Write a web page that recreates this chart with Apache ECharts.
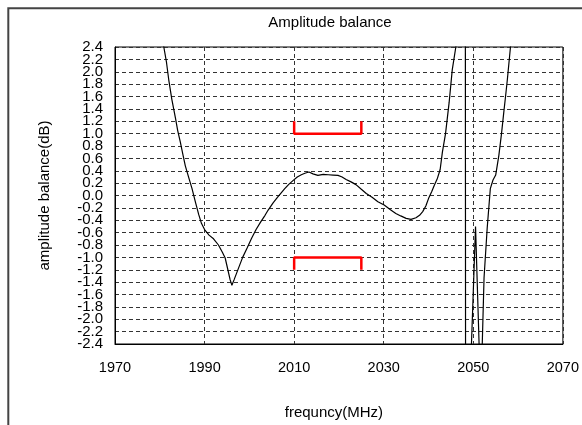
<!DOCTYPE html>
<html>
<head>
<meta charset="utf-8">
<script src="https://cdn.jsdelivr.net/npm/echarts@6/dist/echarts.min.js"></script>
<style>
html,body{margin:0;padding:0;background:#fff;}
#chart{width:582px;height:425px;}
</style>
</head>
<body>
<div id="chart"></div>
<script>
// frequency (MHz) of measured amplitude-balance samples
var freqs = [1979.6,1980.9,1981.5,1982.0,1982.7,1983.5,1984.0,1984.6,1985.2,1985.7,1986.5,1987.2,1988.0,1988.7,1989.3,1990.0,1991.0,1992.0,1993.1,1994.0,1994.6,1995.2,1995.7,1996.1,1996.6,1997.6,1998.5,1999.5,2000.5,2001.5,2002.5,2003.5,2004.2,2005.3,2006.4,2007.2,2007.9,2008.8,2009.8,2010.7,2011.6,2012.4,2013.3,2014.2,2015.3,2016.5,2017.6,2018.7,2019.8,2020.7,2021.6,2022.7,2023.8,2025.0,2026.1,2027.4,2028.7,2030.1,2031.5,2032.7,2033.8,2035.0,2036.1,2037.2,2038.0,2038.7,2039.4,2040.0,2040.7,2041.3,2042.0,2042.6,2043.1,2043.8,2044.6,2045.3,2046.1,2047.0,2048.2,2048.3,2049.4,2050.5,2051.5,2051.7,2052.0,2052.4,2053.1,2053.8,2054.4,2055.0,2055.7,2056.3,2056.8,2057.2,2057.6,2058.3,2059.0];
// amplitude balance (dB)
var balance = [3.0,2.4,2.15,1.87,1.55,1.25,1.05,0.86,0.65,0.48,0.28,0.11,-0.12,-0.31,-0.45,-0.55,-0.64,-0.70,-0.80,-0.92,-1.01,-1.20,-1.36,-1.45,-1.36,-1.17,-1.00,-0.85,-0.69,-0.55,-0.43,-0.32,-0.235,-0.12,-0.02,0.05,0.11,0.18,0.245,0.30,0.335,0.36,0.38,0.35,0.325,0.34,0.335,0.33,0.325,0.30,0.26,0.22,0.176,0.10,0.032,-0.03,-0.10,-0.155,-0.23,-0.29,-0.33,-0.37,-0.385,-0.36,-0.32,-0.26,-0.17,-0.05,0.06,0.165,0.28,0.42,0.70,1.0,1.5,2.03,2.4,3.2,6.0,-6.0,-2.8,-0.5,-2.9,-3.2,-2.4,-1.33,-0.53,0.11,0.25,0.33,0.645,1.0,1.34,1.6,1.87,2.4,3.0];
// specification limit brackets
var upperLimitX = [2010,2010,2025,2025];
var upperLimitY = [1.2,1.0,1.0,1.2];
var lowerLimitX = [2010,2010,2025,2025];
var lowerLimitY = [-1.2,-1.0,-1.0,-1.2];
var xTicks = {min:1970, max:2070, step:20};
var yTicks = {min:-2.4, max:2.4, step:0.2};

function pairs(xs, ys){ var out=[]; for(var i=0;i<xs.length;i++){out.push([xs[i],ys[i]]);} return out; }
function fmtY(v){ return (Math.abs(v)<1e-9?0:v).toFixed(1); }
function isEvenStep(v){ var k=Math.round((v - yTicks.min)/yTicks.step); return k%2===0; }

var chart = echarts.init(document.getElementById('chart'), null, {renderer:'canvas'});
var FONT = 'Liberation Sans, Arial, sans-serif';
var yLabelStyle = {fontFamily:FONT, fontSize:15, color:'#000', margin:12};
var option = {
  animation:false,
  backgroundColor:'#fff',
  graphic:[
    {type:'rect', shape:{x:8.3,y:8.3,width:700,height:600}, style:{fill:'none',stroke:'#444',lineWidth:2}, silent:true, z:100},
    {type:'text', x:330, y:23, style:{text:'Amplitude balance', font:'15px '+FONT, fill:'#000', textAlign:'center', textVerticalAlign:'middle'}, z:100}
  ],
  grid:{left:115, top:47, right:16, bottom:78, show:true, borderColor:'#000', borderWidth:1, backgroundColor:'transparent'},
  xAxis:{
    type:'value', min:xTicks.min, max:xTicks.max, interval:xTicks.step,
    name:'frequncy(MHz)', nameLocation:'middle', nameGap:61,
    nameTextStyle:{fontFamily:FONT, fontSize:15, color:'#000', padding:[0,10,0,0]},
    axisLine:{show:true, onZero:false, lineStyle:{color:'#000', width:1}},
    axisTick:{show:false},
    axisLabel:{fontFamily:FONT, fontSize:14.5, color:'#000', margin:16, showMinLabel:true, showMaxLabel:true, hideOverlap:false, formatter:function(v){return String(Math.round(v));}},
    splitLine:{show:true, lineStyle:{color:'#333', width:1, type:[4,3]}}
  },
  yAxis:[{
    type:'value', position:'left', min:yTicks.min, max:yTicks.max, interval:yTicks.step*2,
    name:'amplitude balance(dB)', nameLocation:'middle', nameGap:63,
    nameTextStyle:{fontFamily:FONT, fontSize:15, color:'#000'},
    axisLine:{show:true, onZero:false, lineStyle:{color:'#000', width:1}},
    axisTick:{show:false},
    axisLabel:Object.assign({showMinLabel:true, showMaxLabel:true, formatter:fmtY}, yLabelStyle),
    splitLine:{show:false}
  },{
    type:'value', position:'left', offset:0, min:yTicks.min, max:yTicks.max, interval:yTicks.step,
    axisLine:{show:false, onZero:false},
    axisTick:{show:false},
    axisLabel:Object.assign({showMinLabel:false, showMaxLabel:false, formatter:function(v){return isEvenStep(v)?'':fmtY(v);}}, yLabelStyle),
    splitLine:{show:true, lineStyle:{color:'#333', width:1, type:[4,3]}}
  }],
  series:[
    {type:'line', data:pairs(freqs,balance), showSymbol:false, clip:true, lineStyle:{color:'#000', width:1.2}, z:5},
    {type:'line', data:pairs(upperLimitX,upperLimitY), showSymbol:false, lineStyle:{color:'#ff0000', width:2.5}, z:6},
    {type:'line', data:pairs(lowerLimitX,lowerLimitY), showSymbol:false, lineStyle:{color:'#ff0000', width:2.5}, z:6}
  ]
};
chart.setOption(option);
</script>
</body>
</html>
